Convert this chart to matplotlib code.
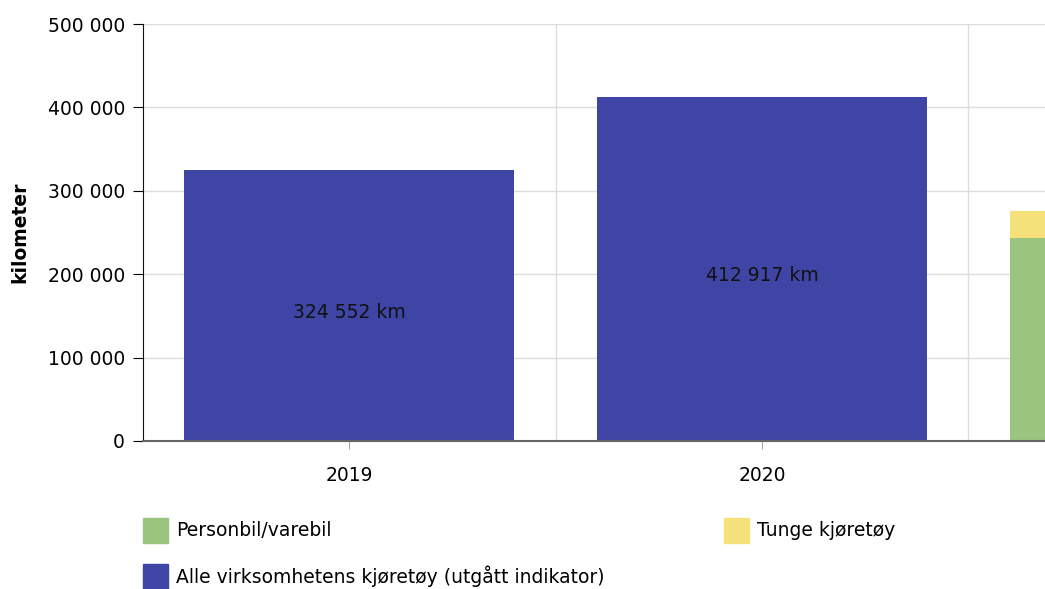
import numpy as np
import matplotlib.pyplot as plt
from matplotlib.patches import Rectangle
from matplotlib.ticker import FuncFormatter

# Data
years = ['2019', '2020', '2021']
alle_kjoretoy = [324552, 412917, 0]      # utgått indikator
personbil = [0, 0, 244000]
tunge = [0, 0, 32000]

blue = '#3f45a5'
green = '#9bc47f'
yellow = '#f5e17a'
fs = 13.5

fig = plt.figure(figsize=(10.45, 5.89), dpi=100)
# axes runs past the right edge of the figure, like the reference
ax = fig.add_axes([143 / 1045, 148 / 589, 1238 / 1045, 417 / 589])

x = np.arange(len(years))
w = 0.8
ax.bar(x, alle_kjoretoy, width=w, color=blue, zorder=2)
ax.bar(x, personbil, width=w, color=green, zorder=2)
ax.bar(x, tunge, width=w, bottom=personbil, color=yellow, zorder=2)

for xi, v in zip(x, alle_kjoretoy):
    if v > 0:
        ax.text(xi, v / 2 - 8000, f'{v:,} km'.replace(',', ' '),
                ha='center', va='center', fontsize=fs, color='#111111', zorder=3)

ax.set_xlim(-0.5, len(years) - 0.5)
ax.set_ylim(0, 500000)
ax.set_yticks(np.arange(0, 500001, 100000))
ax.yaxis.set_major_formatter(FuncFormatter(lambda v, p: f'{int(v):,}'.replace(',', ' ')))
# the last category lies outside the visible figure, so its label is left blank
ax.set_xticks(x)
ax.set_xticklabels(years[:2] + [''])
ax.set_xticks(np.arange(0.5, len(years) - 0.5), minor=True)

ax.grid(axis='y', color='#dddddd', linewidth=1, zorder=0)
ax.grid(axis='x', which='minor', color='#dddddd', linewidth=1, zorder=0)
ax.tick_params(axis='x', which='minor', length=0)
ax.tick_params(axis='x', which='major', length=6, color='#aaaaaa', labelsize=fs, pad=12)
ax.tick_params(axis='y', length=7, labelsize=fs, pad=6)

for s in ['top', 'right']:
    ax.spines[s].set_visible(False)
ax.spines['bottom'].set_color('#666666')
ax.spines['bottom'].set_linewidth(1.5)
ax.spines['left'].set_color('#111111')

fig.text(20 / 1045, 1 - 232 / 589, 'kilometer', rotation=90, ha='center', va='center',
         fontsize=13.5, fontweight='bold')

# legend
legend_items = [('Personbil/varebil', green, 143, 530),
                ('Tunge kjøretøy', yellow, 724, 530),
                ('Alle virksomhetens kjøretøy (utgått indikator)', blue, 143, 576)]
for label, col, px, py in legend_items:
    fig.patches.append(Rectangle((px / 1045, 1 - (py + 12.5) / 589), 25 / 1045, 25 / 589,
                                 transform=fig.transFigure, facecolor=col,
                                 edgecolor=col, linewidth=1))
    fig.text((px + 33) / 1045, 1 - py / 589, label, ha='left', va='center', fontsize=fs)

fig.savefig('out.png', dpi=100)
